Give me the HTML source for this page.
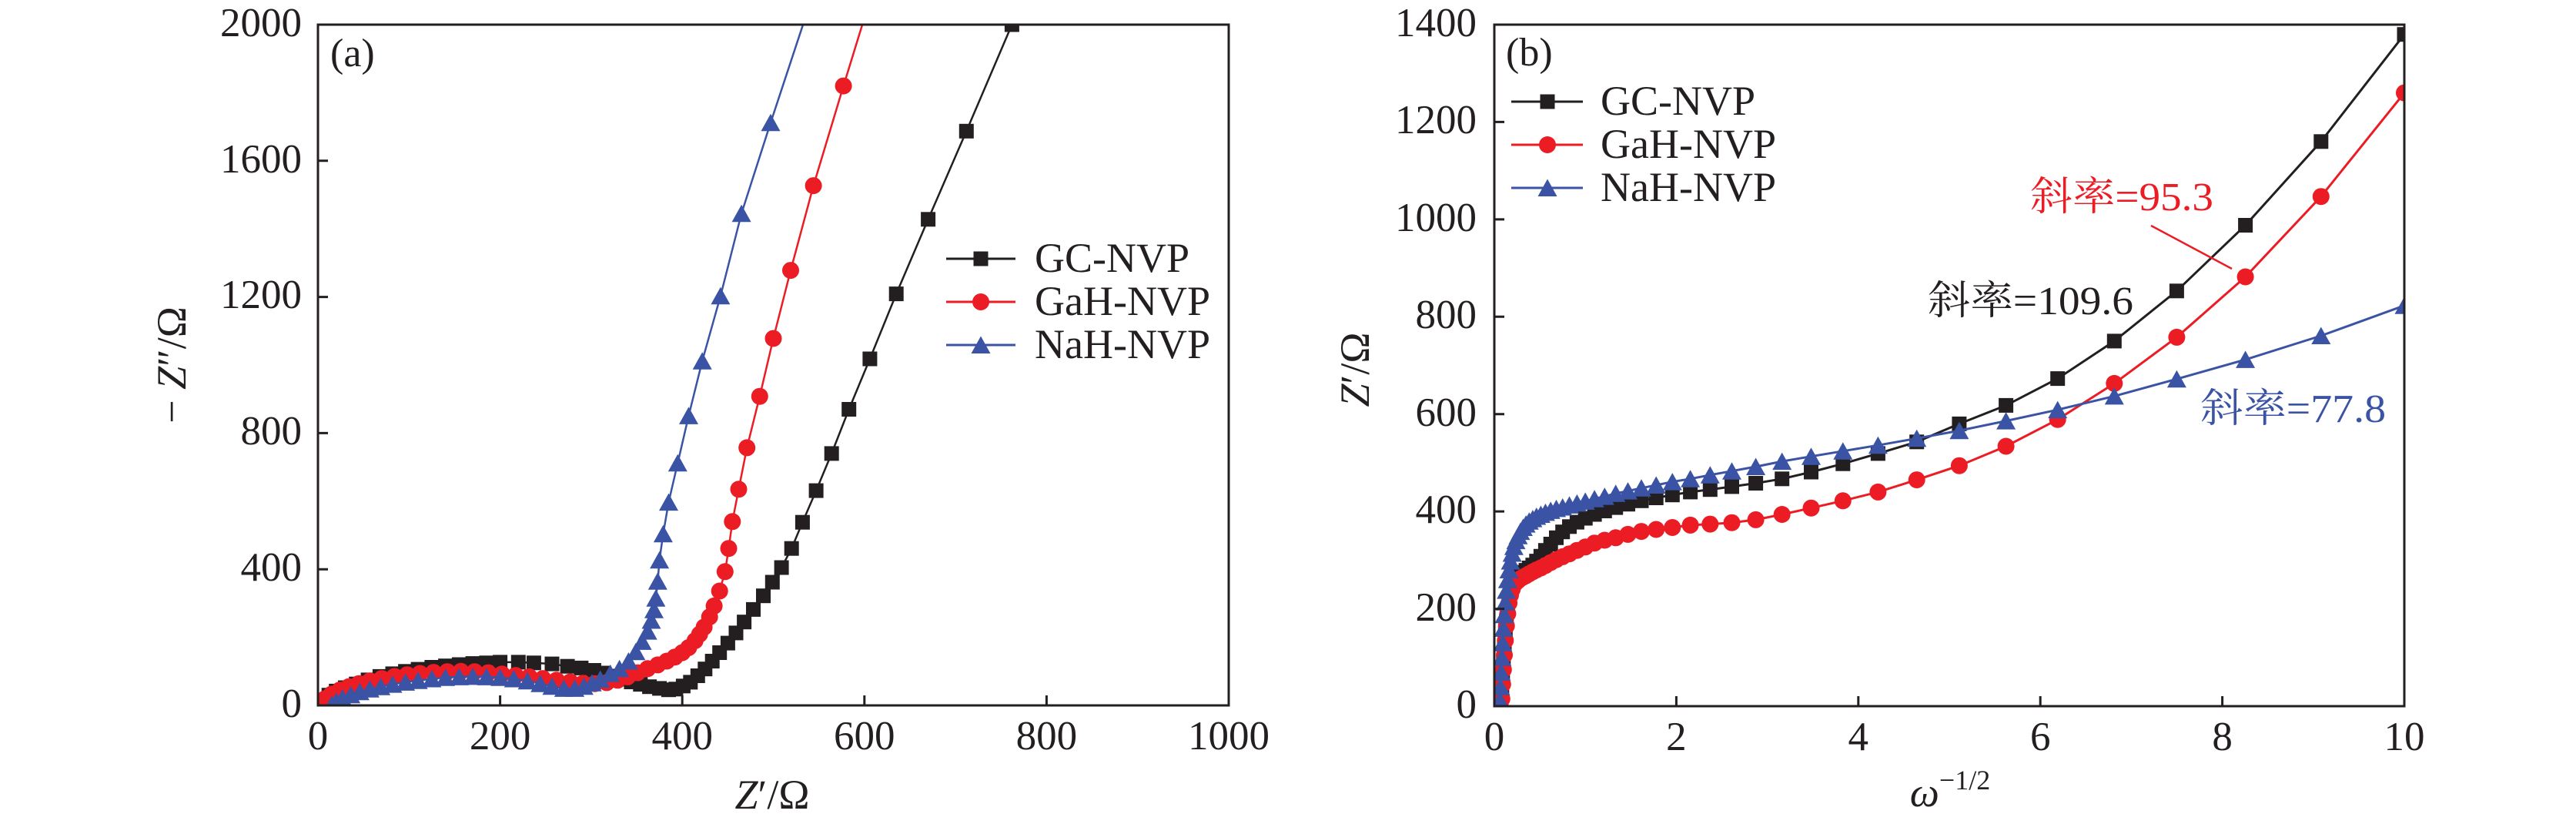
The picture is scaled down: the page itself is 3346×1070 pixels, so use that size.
<!DOCTYPE html>
<html>
<head>
<meta charset="utf-8">
<style>
  html,body{margin:0;padding:0;background:#ffffff;}
  svg{display:block;}
  svg text{font-family:"Liberation Serif","Noto Serif CJK SC","Noto Sans CJK SC",serif;}
</style>
</head>
<body>
<svg width="3346" height="1070" viewBox="0 0 3346 1070" xmlns="http://www.w3.org/2000/svg" style="font-family:'Liberation Serif','Noto Serif CJK SC','Noto Sans CJK SC',serif;">
  <defs>
    <clipPath id="ca"><rect x="413" y="32" width="1183" height="884"/></clipPath>
    <clipPath id="cb"><rect x="1941" y="32" width="1182" height="885"/></clipPath>
    <marker id="ms" markerUnits="userSpaceOnUse" markerWidth="24" markerHeight="24" refX="12" refY="12" overflow="visible">
      <rect x="2.5" y="2.5" width="19" height="19" fill="#231f20"/>
    </marker>
    <marker id="mc" markerUnits="userSpaceOnUse" markerWidth="24" markerHeight="24" refX="12" refY="12" overflow="visible">
      <circle cx="12" cy="12" r="11" fill="#ec1c24"/>
    </marker>
    <marker id="mt" markerUnits="userSpaceOnUse" markerWidth="24" markerHeight="24" refX="12" refY="12" overflow="visible">
      <path d="M12,0.5 L24.5,23 L-0.5,23 Z" fill="#3a53a4"/>
    </marker>
  </defs>

  <!-- ================= PANEL (a) ================= -->
  <g clip-path="url(#ca)">
    <polyline fill="none" stroke="#231f20" stroke-width="2.5" marker-start="url(#ms)" marker-mid="url(#ms)" marker-end="url(#ms)"
      points="418.9,910.7 427.2,902.7 436.7,897.4 448.5,893.0 462.7,888.2 478.1,882.9 493.4,878.4 510.0,874.9 526.6,871.8 543.1,869.1 560.9,866.5 578.6,864.7 596.4,863.0 614.1,861.6 631.9,860.8 649.6,859.9 673.3,859.9 693.4,860.8 717.0,862.1 737.1,865.2 754.9,867.4 771.4,870.5 784.5,874.0 796.3,878.0 808.1,882.0 820.0,885.5 831.8,888.6 843.6,891.7 856.6,893.9 868.5,895.7 877.9,894.8 887.4,890.8 896.8,885.9 906.3,877.5 915.8,868.7 925.2,858.5 934.7,847.5 945.4,835.1 956.0,821.9 966.6,807.7 978.5,791.4 991.5,773.7 1003.3,756.0 1015.1,737.0 1028.2,712.2 1042.4,678.2 1060.1,637.1 1080.2,588.9 1102.7,531.5 1129.9,466.0 1164.2,381.6 1205.6,284.8 1255.3,170.3 1314.4,32.0"/>
    <polyline fill="none" stroke="#ec1c24" stroke-width="2.5" marker-start="url(#mc)" marker-mid="url(#mc)" marker-end="url(#mc)"
      points="416.5,913.8 422.5,907.2 430.7,901.4 441.4,896.1 453.2,891.7 466.2,887.7 480.4,884.2 495.8,881.1 512.4,878.4 528.9,876.2 545.5,874.5 563.2,873.1 581.0,872.2 598.7,871.8 616.5,872.2 634.2,873.6 652.0,875.3 669.7,877.1 687.5,878.9 705.2,881.1 722.9,883.3 740.7,885.5 757.3,887.3 772.6,887.7 788.0,886.4 802.2,883.3 815.2,878.9 828.2,873.6 841.2,868.3 854.3,863.4 866.1,858.5 876.7,853.2 886.2,847.5 894.5,840.9 902.8,832.0 908.7,823.6 914.6,814.3 921.7,801.1 927.6,786.9 934.7,767.5 941.8,742.3 946.5,712.2 951.3,677.3 959.5,635.3 970.2,581.4 986.8,514.7 1004.5,439.5 1027.0,351.1 1056.6,241.1 1095.6,111.6 1140.5,-34.3"/>
    <polyline fill="none" stroke="#3a53a4" stroke-width="2.5" marker-start="url(#mt)" marker-mid="url(#mt)" marker-end="url(#mt)"
      points="430.7,915.1 436.7,910.7 444.9,906.3 455.6,902.3 467.4,898.3 480.4,894.8 494.6,891.7 510.0,888.6 526.6,885.9 543.1,883.7 560.9,881.5 578.6,879.8 596.4,878.9 614.1,878.4 631.9,878.9 649.6,879.8 667.3,881.5 685.1,884.2 701.7,887.7 717.0,891.2 732.4,893.9 746.6,893.9 758.4,891.2 769.1,886.8 779.7,882.0 792.7,874.5 804.6,868.3 816.4,858.5 825.9,846.2 834.1,832.9 841.2,819.6 846.0,805.5 849.5,791.8 851.9,776.8 854.3,754.7 856.6,727.3 861.4,693.2 868.5,652.1 880.3,601.3 894.5,539.9 912.2,468.7 935.9,384.3 963.1,277.3 1001.0,159.3 1051.8,5.5"/>
  </g>

  <!-- frame and ticks (a) -->
  <rect x="413" y="32" width="1183" height="884" fill="none" stroke="#231f20" stroke-width="3"/>
  <path d="M649.6,916 V903 M886.2,916 V903 M1122.8,916 V903 M1359.4,916 V903 M413,739.2 H426 M413,562.4 H426 M413,385.6 H426 M413,208.8 H426" stroke="#231f20" stroke-width="3" fill="none"/>

  <g font-size="53" fill="#231f20" text-anchor="middle">
    <text x="413" y="973">0</text>
    <text x="649.6" y="973">200</text>
    <text x="886.2" y="973">400</text>
    <text x="1122.8" y="973">600</text>
    <text x="1359.4" y="973">800</text>
    <text x="1596" y="973">1000</text>
  </g>
  <g font-size="53" fill="#231f20" text-anchor="end">
    <text x="392" y="931">0</text>
    <text x="392" y="754">400</text>
    <text x="392" y="577">800</text>
    <text x="392" y="400">1200</text>
    <text x="392" y="224">1600</text>
    <text x="392" y="47">2000</text>
  </g>

  <text x="429" y="86" font-size="52" fill="#231f20">(a)</text>

  <!-- legend (a) -->
  <g stroke-width="3">
    <line x1="1229" y1="336" x2="1319" y2="336" stroke="#231f20"/>
    <rect x="1264.5" y="326.5" width="19" height="19" fill="#231f20"/>
    <line x1="1229" y1="392" x2="1319" y2="392" stroke="#ec1c24"/>
    <circle cx="1274" cy="392" r="11" fill="#ec1c24"/>
    <line x1="1229" y1="448" x2="1319" y2="448" stroke="#3a53a4"/>
    <path d="M1274,436.5 L1286.5,459 L1261.5,459 Z" fill="#3a53a4"/>
  </g>
  <g font-size="54" fill="#231f20">
    <text x="1344" y="353">GC-NVP</text>
    <text x="1344" y="409">GaH-NVP</text>
    <text x="1344" y="465">NaH-NVP</text>
  </g>

  <text x="1003" y="1050" font-size="54" fill="#231f20" text-anchor="middle"><tspan font-style="italic">Z</tspan>′/Ω</text>
  <text transform="translate(241,474) rotate(-90)" font-size="54" fill="#231f20" text-anchor="middle">− <tspan font-style="italic">Z</tspan>″/Ω</text>

  <!-- ================= PANEL (b) ================= -->
  <g clip-path="url(#cb)">
    <polyline fill="none" stroke="#231f20" stroke-width="3" marker-start="url(#ms)" marker-mid="url(#ms)" marker-end="url(#ms)"
      points="3123.0,44.7 3014.8,183.8 2916.6,292.5 2827.4,377.8 2746.3,442.9 2672.7,491.6 2605.6,526.4 2544.9,550.4 2489.7,573.8 2439.4,588.9 2393.8,602.2 2352.5,613.0 2314.7,621.8 2280.6,627.5 2249.5,631.9 2221.3,635.7 2195.6,638.9 2172.3,642.7 2151.2,646.5 2132.0,650.3 2114.5,654.7 2098.7,659.1 2084.3,663.5 2071.1,668.0 2059.2,673.0 2048.4,678.1 2038.5,683.8 2029.7,690.7 2021.5,698.3 2014.2,706.5 2007.4,714.7 2001.4,722.3 1995.8,728.6 1990.9,733.7 1986.3,737.5 1982.1,740.6 1978.4,743.2 1974.9,745.7 1971.9,748.2 1969.0,751.4 1966.4,755.2 1964.2,760.2 1962.0,767.8 1960.1,777.9 1958.4,790.6 1956.7,806.4 1955.3,824.1 1954.0,842.4 1952.8,861.4 1951.8,880.3 1950.8,899.3 1949.9,917"/>
    <polyline fill="none" stroke="#ec1c24" stroke-width="3" marker-start="url(#mc)" marker-mid="url(#mc)" marker-end="url(#mc)"
      points="3123.0,120.6 3014.8,255.2 2916.6,359.5 2827.4,437.9 2746.3,497.9 2672.7,544.7 2605.6,579.5 2544.9,604.7 2489.7,623.1 2439.4,638.9 2393.8,650.3 2352.5,659.7 2314.7,668.0 2280.6,674.9 2249.5,678.7 2221.3,680.6 2195.6,681.9 2172.3,685.0 2151.2,687.5 2132.0,690.1 2114.5,693.9 2098.7,698.3 2084.3,701.5 2071.1,705.2 2059.2,710.3 2048.4,714.7 2038.5,719.2 2029.7,722.9 2021.5,726.7 2014.2,730.5 2007.4,734.3 2001.4,737.5 1995.8,740.0 1990.9,742.5 1986.3,745.1 1982.1,747.6 1978.4,749.5 1974.9,751.4 1971.9,753.9 1969.0,756.4 1966.4,759.6 1964.2,765.3 1962.0,772.9 1960.1,783.0 1958.4,796.9 1956.7,812.7 1955.3,831.7 1954.0,850.6 1952.8,869.6 1951.8,888.6 1950.8,907.5 1949.9,926.5"/>
    <polyline fill="none" stroke="#3a53a4" stroke-width="3" marker-start="url(#mt)" marker-mid="url(#mt)" marker-end="url(#mt)"
      points="3123.0,396.8 3014.8,436.0 2916.6,466.9 2827.4,492.2 2746.3,514.4 2672.7,532.1 2605.6,546.6 2544.9,559.2 2489.7,569.3 2439.4,578.2 2393.8,585.8 2352.5,592.7 2314.7,599.1 2280.6,606.0 2249.5,611.7 2221.3,616.8 2195.6,621.8 2172.3,625.6 2151.2,630.0 2132.0,633.8 2114.5,637.6 2098.7,640.8 2084.3,644.6 2071.1,647.7 2059.2,650.9 2048.4,653.4 2038.5,655.9 2029.7,658.5 2021.5,660.4 2014.2,662.9 2007.4,665.4 2001.4,668.0 1995.8,670.5 1990.9,673.6 1986.3,676.8 1982.1,680.6 1978.4,685.0 1974.9,690.1 1971.9,695.8 1969.0,702.1 1966.4,709.7 1964.2,718.5 1962.0,728.6 1960.1,740.0 1958.4,752.7 1956.7,766.6 1955.3,781.7 1954.0,798.2 1952.8,815.9 1951.8,834.8 1950.8,853.8 1949.9,872.8 1949.0,891.7 1948.3,909.4 1947.6,926.5"/>
  </g>

  <!-- frame and ticks (b) -->
  <rect x="1941" y="32" width="1182" height="885" fill="none" stroke="#231f20" stroke-width="3"/>
  <path d="M2177.4,917 V904 M2413.8,917 V904 M2650.2,917 V904 M2886.6,917 V904 M1941,790.6 H1954 M1941,664.1 H1954 M1941,537.7 H1954 M1941,411.3 H1954 M1941,284.9 H1954 M1941,158.4 H1954" stroke="#231f20" stroke-width="3" fill="none"/>

  <g font-size="53" fill="#231f20" text-anchor="middle">
    <text x="1941" y="974">0</text>
    <text x="2177.4" y="974">2</text>
    <text x="2413.8" y="974">4</text>
    <text x="2650.2" y="974">6</text>
    <text x="2886.6" y="974">8</text>
    <text x="3123" y="974">10</text>
  </g>
  <g font-size="53" fill="#231f20" text-anchor="end">
    <text x="1918" y="932">0</text>
    <text x="1918" y="806">200</text>
    <text x="1918" y="679">400</text>
    <text x="1918" y="553">600</text>
    <text x="1918" y="426">800</text>
    <text x="1918" y="300">1000</text>
    <text x="1918" y="173">1200</text>
    <text x="1918" y="47">1400</text>
  </g>

  <text x="1956" y="85" font-size="52" fill="#231f20">(b)</text>

  <!-- legend (b) -->
  <g stroke-width="3">
    <line x1="1963" y1="132" x2="2056" y2="132" stroke="#231f20"/>
    <rect x="2000.5" y="122.5" width="19" height="19" fill="#231f20"/>
    <line x1="1963" y1="188" x2="2056" y2="188" stroke="#ec1c24"/>
    <circle cx="2010" cy="188" r="11" fill="#ec1c24"/>
    <line x1="1963" y1="244" x2="2056" y2="244" stroke="#3a53a4"/>
    <path d="M2010,232.5 L2022.5,255 L1997.5,255 Z" fill="#3a53a4"/>
  </g>
  <g font-size="54" fill="#231f20">
    <text x="2079" y="149">GC-NVP</text>
    <text x="2079" y="205">GaH-NVP</text>
    <text x="2079" y="261">NaH-NVP</text>
  </g>

  <!-- annotations -->
  <text x="2637" y="273" font-size="52" fill="#ec1c24" textLength="238" lengthAdjust="spacingAndGlyphs">斜率=95.3</text>
  <line x1="2794" y1="293" x2="2899" y2="349" stroke="#ec1c24" stroke-width="2.5"/>
  <text x="2504" y="408" font-size="52" fill="#231f20" textLength="267" lengthAdjust="spacingAndGlyphs">斜率=109.6</text>
  <text x="2858" y="548" font-size="52" fill="#3a53a4" textLength="241" lengthAdjust="spacingAndGlyphs">斜率=77.8</text>

  <!-- axis titles (b) -->
  <text x="2533" y="1047" font-size="54" fill="#231f20" text-anchor="middle"><tspan font-style="italic">ω</tspan><tspan font-size="36" dy="-22">−1/2</tspan></text>
  <text transform="translate(1778,480) rotate(-90)" font-size="54" fill="#231f20" text-anchor="middle"><tspan font-style="italic">Z</tspan>′/Ω</text>
</svg>
</body>
</html>
